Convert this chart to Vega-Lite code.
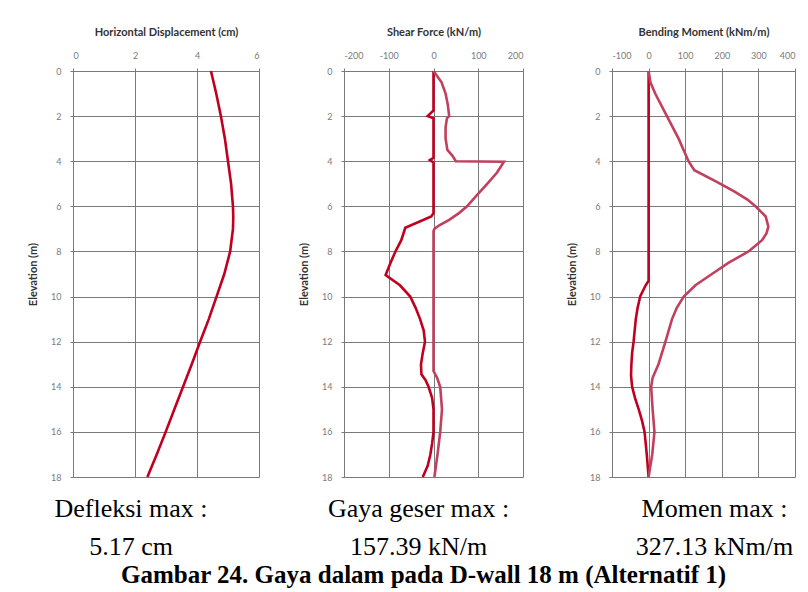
{
  "$schema": "https://vega.github.io/schema/vega-lite/v6.json",
  "background": "white",
  "padding": {"left": 27, "top": 26, "right": 5, "bottom": 5},
  "title": {
    "text": "Gambar 24. Gaya dalam pada D-wall 18 m (Alternatif 1)",
    "orient": "bottom",
    "anchor": "middle",
    "font": "Liberation Serif",
    "fontSize": 25,
    "fontWeight": "bold",
    "color": "black",
    "offset": 3,
    "dx": 12
  },
  "datasets": {
    "disp": [
      {"elev": 0, "val": 4.45}, {"elev": 1, "val": 4.62}, {"elev": 2, "val": 4.77}, {"elev": 3, "val": 4.9},
      {"elev": 4, "val": 5.0}, {"elev": 5, "val": 5.1}, {"elev": 6, "val": 5.16}, {"elev": 6.5, "val": 5.17},
      {"elev": 7, "val": 5.16}, {"elev": 8, "val": 5.07}, {"elev": 9, "val": 4.88}, {"elev": 10, "val": 4.63},
      {"elev": 11, "val": 4.38}, {"elev": 12, "val": 4.1}, {"elev": 13, "val": 3.83}, {"elev": 14, "val": 3.55},
      {"elev": 15, "val": 3.27}, {"elev": 16, "val": 2.99}, {"elev": 17, "val": 2.7}, {"elev": 18, "val": 2.4}
    ],
    "shear": [
      {"s": "A", "elev": 0, "val": 0}, {"s": "A", "elev": 1.75, "val": 0}, {"s": "A", "elev": 1.9, "val": -8},
      {"s": "A", "elev": 2.0, "val": -13}, {"s": "A", "elev": 2.1, "val": 0}, {"s": "A", "elev": 3.85, "val": 0},
      {"s": "A", "elev": 3.95, "val": -8}, {"s": "A", "elev": 4.05, "val": 0}, {"s": "A", "elev": 6.3, "val": 0},
      {"s": "A", "elev": 6.45, "val": -5}, {"s": "A", "elev": 6.95, "val": -63}, {"s": "A", "elev": 7.5, "val": -72},
      {"s": "A", "elev": 8.0, "val": -85}, {"s": "A", "elev": 8.5, "val": -96}, {"s": "A", "elev": 9.05, "val": -107},
      {"s": "A", "elev": 9.5, "val": -75}, {"s": "A", "elev": 10, "val": -52}, {"s": "A", "elev": 10.5, "val": -40},
      {"s": "A", "elev": 11, "val": -30}, {"s": "A", "elev": 11.5, "val": -22}, {"s": "A", "elev": 12, "val": -19},
      {"s": "A", "elev": 12.5, "val": -24}, {"s": "A", "elev": 13, "val": -28}, {"s": "A", "elev": 13.45, "val": -27},
      {"s": "A", "elev": 13.7, "val": -18}, {"s": "A", "elev": 14, "val": -11}, {"s": "A", "elev": 14.5, "val": -3},
      {"s": "A", "elev": 15, "val": 0}, {"s": "A", "elev": 16, "val": 0}, {"s": "A", "elev": 16.5, "val": -3},
      {"s": "A", "elev": 17, "val": -7}, {"s": "A", "elev": 17.5, "val": -13}, {"s": "A", "elev": 18, "val": -24},
      {"s": "B", "elev": 0, "val": 0}, {"s": "B", "elev": 0.5, "val": 18}, {"s": "B", "elev": 1, "val": 27},
      {"s": "B", "elev": 1.5, "val": 32}, {"s": "B", "elev": 2, "val": 35}, {"s": "B", "elev": 2.1, "val": 30},
      {"s": "B", "elev": 2.5, "val": 27}, {"s": "B", "elev": 3, "val": 27}, {"s": "B", "elev": 3.5, "val": 31},
      {"s": "B", "elev": 3.75, "val": 42}, {"s": "B", "elev": 4, "val": 50}, {"s": "B", "elev": 4.02, "val": 157.39},
      {"s": "B", "elev": 4.5, "val": 142}, {"s": "B", "elev": 5, "val": 120}, {"s": "B", "elev": 5.5, "val": 97},
      {"s": "B", "elev": 6, "val": 75}, {"s": "B", "elev": 6.3, "val": 57},
      {"s": "B", "elev": 6.6, "val": 35}, {"s": "B", "elev": 6.85, "val": 12}, {"s": "B", "elev": 7.0, "val": 2},
      {"s": "B", "elev": 7.1, "val": 0}, {"s": "B", "elev": 13.3, "val": 0}, {"s": "B", "elev": 13.6, "val": 8},
      {"s": "B", "elev": 14, "val": 15}, {"s": "B", "elev": 15, "val": 19}, {"s": "B", "elev": 16, "val": 15},
      {"s": "B", "elev": 17, "val": 9}, {"s": "B", "elev": 18, "val": 2}
    ],
    "moment": [
      {"s": "A", "elev": 0, "val": 0}, {"s": "A", "elev": 9.3, "val": 0}, {"s": "A", "elev": 9.5, "val": -8},
      {"s": "A", "elev": 10, "val": -23}, {"s": "A", "elev": 10.5, "val": -30}, {"s": "A", "elev": 11, "val": -35},
      {"s": "A", "elev": 12, "val": -41}, {"s": "A", "elev": 12.5, "val": -45}, {"s": "A", "elev": 13, "val": -47},
      {"s": "A", "elev": 13.5, "val": -48}, {"s": "A", "elev": 14, "val": -45}, {"s": "A", "elev": 14.5, "val": -37},
      {"s": "A", "elev": 15, "val": -27}, {"s": "A", "elev": 15.5, "val": -18}, {"s": "A", "elev": 16, "val": -11},
      {"s": "A", "elev": 16.5, "val": -8}, {"s": "A", "elev": 17, "val": -5}, {"s": "A", "elev": 18, "val": 0},
      {"s": "B", "elev": 0, "val": 0}, {"s": "B", "elev": 0.5, "val": 5}, {"s": "B", "elev": 1, "val": 18},
      {"s": "B", "elev": 2, "val": 50}, {"s": "B", "elev": 3, "val": 82}, {"s": "B", "elev": 4, "val": 109},
      {"s": "B", "elev": 4.4, "val": 125}, {"s": "B", "elev": 4.9, "val": 185}, {"s": "B", "elev": 5.35, "val": 235},
      {"s": "B", "elev": 5.7, "val": 270}, {"s": "B", "elev": 6, "val": 292}, {"s": "B", "elev": 6.45, "val": 320},
      {"s": "B", "elev": 6.9, "val": 327.13}, {"s": "B", "elev": 7.2, "val": 322}, {"s": "B", "elev": 7.5, "val": 310},
      {"s": "B", "elev": 8, "val": 273}, {"s": "B", "elev": 8.5, "val": 219}, {"s": "B", "elev": 9, "val": 173},
      {"s": "B", "elev": 9.5, "val": 128}, {"s": "B", "elev": 10, "val": 96}, {"s": "B", "elev": 10.5, "val": 77},
      {"s": "B", "elev": 11, "val": 64}, {"s": "B", "elev": 12, "val": 46}, {"s": "B", "elev": 13, "val": 27},
      {"s": "B", "elev": 13.6, "val": 11}, {"s": "B", "elev": 14, "val": 7}, {"s": "B", "elev": 15, "val": 11},
      {"s": "B", "elev": 16, "val": 16}, {"s": "B", "elev": 17, "val": 10}, {"s": "B", "elev": 18, "val": 0}
    ]
  },
  "config": {
    "view": {"stroke": null},
    "axis": {
      "gridColor": "#7a7a7a",
      "gridOpacity": 1,
      "gridWidth": 1,
      "domainColor": "#7a7a7a",
      "tickColor": "#7a7a7a",
      "tickSize": 3,
      "labelFont": "Lato",
      "labelFontSize": 9,
      "labelColor": "#7a7a7a",
      "labelExpr": "'' + datum.value",
      "titleFont": "Lato",
      "titleFontSize": 11,
      "titleFontWeight": "bold",
      "titleColor": "#333333"
    },
    "title": {
      "font": "Liberation Serif",
      "fontSize": 26,
      "fontWeight": "normal",
      "color": "black"
    }
  },
  "bounds": "flush",
  "spacing": 85,
  "hconcat": [
    {
      "width": 186,
      "height": 406,
      "data": {"name": "disp"},
      "title": {"text": ["Defleksi max :", "5.17 cm"], "orient": "bottom", "anchor": "middle", "dx": -35, "offset": 14, "lineHeight": 38},
      "mark": {"type": "line", "color": "#c00020", "strokeWidth": 2.6},
      "encoding": {
        "x": {"field": "val", "type": "quantitative", "scale": {"domain": [0, 6], "nice": false},
          "axis": {"orient": "top", "title": "Horizontal Displacement (cm)", "values": [0, 2, 4, 6], "labelPadding": 8, "titlePadding": 14, "grid": true}},
        "y": {"field": "elev", "type": "quantitative", "scale": {"domain": [0, 18], "reverse": true, "nice": false},
          "axis": {"title": "Elevation (m)", "values": [0, 2, 4, 6, 8, 10, 12, 14, 16, 18], "labelPadding": 9, "titlePadding": 12, "grid": true}},
        "order": {"field": "elev", "type": "quantitative"}
      }
    },
    {
      "bounds": "flush",
      "spacing": 89,
      "hconcat": [
        {
          "width": 179,
          "height": 406,
          "data": {"name": "shear"},
          "title": {"text": ["Gaya geser max :", "157.39 kN/m"], "orient": "bottom", "anchor": "middle", "dx": -15, "offset": 14, "lineHeight": 38},
          "mark": {"type": "line", "strokeWidth": 2.6},
          "encoding": {
            "x": {"field": "val", "type": "quantitative", "scale": {"domain": [-200, 200], "nice": false},
              "axis": {"orient": "top", "title": "Shear Force (kN/m)", "values": [-200, -100, 0, 100, 200], "labelPadding": 8, "titlePadding": 14, "grid": true}},
            "y": {"field": "elev", "type": "quantitative", "scale": {"domain": [0, 18], "reverse": true, "nice": false},
              "axis": {"title": "Elevation (m)", "values": [0, 2, 4, 6, 8, 10, 12, 14, 16, 18], "labelPadding": 9, "titlePadding": 12, "grid": true}},
            "color": {"field": "s", "type": "nominal", "scale": {"domain": ["A", "B"], "range": ["#c00020", "#c0405e"]}, "legend": null},
            "order": {"field": "elev", "type": "quantitative"}
          }
        },
        {
          "width": 183,
          "height": 406,
          "data": {"name": "moment"},
          "title": {"text": ["Momen max :", "327.13 kNm/m"], "orient": "bottom", "anchor": "middle", "dx": 11, "offset": 14, "lineHeight": 38},
          "mark": {"type": "line", "strokeWidth": 2.6},
          "encoding": {
            "x": {"field": "val", "type": "quantitative", "scale": {"domain": [-100, 400], "nice": false},
              "axis": {"orient": "top", "title": "Bending Moment (kNm/m)", "values": [-100, 0, 100, 200, 300, 400], "labelPadding": 8, "titlePadding": 14, "grid": true}},
            "y": {"field": "elev", "type": "quantitative", "scale": {"domain": [0, 18], "reverse": true, "nice": false},
              "axis": {"title": "Elevation (m)", "values": [0, 2, 4, 6, 8, 10, 12, 14, 16, 18], "labelPadding": 9, "titlePadding": 12, "grid": true}},
            "color": {"field": "s", "type": "nominal", "scale": {"domain": ["A", "B"], "range": ["#c00020", "#c0405e"]}, "legend": null},
            "order": {"field": "elev", "type": "quantitative"}
          }
        }
      ]
    }
  ]
}
